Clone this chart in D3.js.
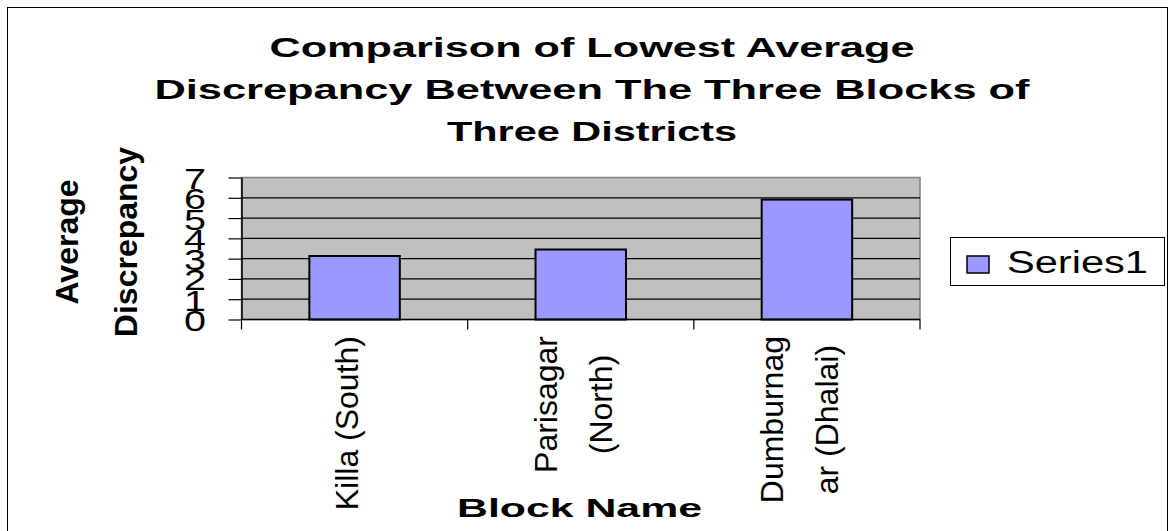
<!DOCTYPE html>
<html>
<head>
<meta charset="utf-8">
<script src="https://cdn.jsdelivr.net/npm/d3@7"></script>
<style>
  html, body { margin: 0; padding: 0; background: #fff; }
  text { font-family: "Liberation Sans", Arial, sans-serif; fill: #000; }
</style>
</head>
<body>
<div id="chart"></div>
<script>
// chart data
var categories = ["Killa (South)", "Parisagar (North)", "Dumburnagar (Dhalai)"];
var labelLines = [["Killa (South)"], ["Parisagar", "(North)"], ["Dumburnag", "ar (Dhalai)"]];
var values = [3.13, 3.45, 5.91];
var yTicks = [0, 1, 2, 3, 4, 5, 6, 7];
var seriesName = "Series1";
var titleLines = ["Comparison of Lowest Average", "Discrepancy Between The Three Blocks of", "Three Districts"];
var yTitleLines = ["Average", "Discrepancy"];
var xTitle = "Block Name";

var width = 1172, height = 531;
var plot = {left: 241.5, right: 920, top: 177.5, bottom: 319.5};

var svg = d3.select("#chart")
    .append("svg")
        .attr("width", width)
        .attr("height", height);

// outer frame
svg.append("rect")
    .attr("x", 7.5).attr("y", 7.5)
    .attr("width", 1160).attr("height", 560)
    .attr("fill", "none")
    .attr("stroke", "#000")
    .attr("stroke-width", 1);

// scales
var xScale = d3.scaleBand()
    .domain(categories)
    .range([plot.left, plot.right])
    .paddingInner(0.6)
    .paddingOuter(0.3);

var catScale = d3.scaleBand()
    .domain(categories)
    .range([plot.left, plot.right]);

var yScale = d3.scaleLinear()
    .domain([0, 7])
    .range([plot.bottom, plot.top]);

// plot background
svg.append("rect")
    .attr("x", plot.left).attr("y", plot.top)
    .attr("width", plot.right - plot.left)
    .attr("height", plot.bottom - plot.top)
    .attr("fill", "#c0c0c0")
    .attr("stroke", "#808080")
    .attr("stroke-width", 1.5);

// gridlines
svg.append("g")
    .selectAll("line")
    .data(yTicks.slice(1, -1))
    .enter()
    .append("line")
        .attr("x1", plot.left).attr("x2", plot.right)
        .attr("y1", function(d) { return yScale(d); })
        .attr("y2", function(d) { return yScale(d); })
        .attr("stroke", "#000")
        .attr("stroke-width", 1.2);

// bars
svg.append("g")
    .selectAll("rect")
    .data(values)
    .enter()
    .append("rect")
        .attr("x", function(d, i) { return xScale(categories[i]); })
        .attr("y", function(d) { return yScale(d); })
        .attr("width", xScale.bandwidth())
        .attr("height", function(d) { return yScale(0) - yScale(d); })
        .attr("fill", "#9999ff")
        .attr("stroke", "#000")
        .attr("stroke-width", 2);

// y axis
var yAxis = svg.append("g")
    .attr("transform", "translate(" + plot.left + ",0)")
    .call(d3.axisLeft(yScale).tickValues(yTicks).tickFormat(d3.format("d")).tickSize(13).tickSizeOuter(0));
yAxis.select(".domain").attr("stroke", "#000").attr("stroke-width", 1.5);
yAxis.selectAll(".tick line").attr("stroke", "#000").attr("stroke-width", 1.2);
yAxis.selectAll(".tick text")
    .attr("x", -46.5)
    .attr("dy", "11px")
    .attr("text-anchor", "middle")
    .attr("fill", "#000")
    .attr("font-size", "30px")
    .attr("font-family", "Liberation Sans, Arial, sans-serif")
    .attr("textLength", 22)
    .attr("lengthAdjust", "spacingAndGlyphs");

// x axis line and category ticks
svg.append("line")
    .attr("x1", plot.left).attr("x2", plot.right)
    .attr("y1", plot.bottom).attr("y2", plot.bottom)
    .attr("stroke", "#000")
    .attr("stroke-width", 1.5);

var bounds = categories.map(function(c) { return catScale(c); }).concat([plot.right]);
svg.append("g")
    .selectAll("line")
    .data(bounds)
    .enter()
    .append("line")
        .attr("x1", function(d) { return d; })
        .attr("x2", function(d) { return d; })
        .attr("y1", plot.bottom).attr("y2", plot.bottom + 10)
        .attr("stroke", "#000")
        .attr("stroke-width", 1.2);

// rotated category labels
var lineGap = 55;
labelLines.forEach(function(lines, i) {
    var cx = catScale(categories[i]) + catScale.bandwidth() / 2;
    var g = svg.append("g");
    var texts = lines.map(function(t, j) {
        var bx = cx + 3.5 + (j - (lines.length - 1) / 2) * lineGap;
        return g.append("text")
            .attr("font-size", "32px")
            .attr("text-anchor", "middle")
            .attr("data-bx", bx)
            .text(t);
    });
    var maxLen = d3.max(texts, function(t) { return t.node().getComputedTextLength(); });
    texts.forEach(function(t) {
        t.attr("transform", "translate(" + t.attr("data-bx") + "," + (336 + maxLen / 2) + ") rotate(-90)");
    });
});

// title
svg.append("g")
    .selectAll("text")
    .data(titleLines)
    .enter()
    .append("text")
        .attr("x", 592)
        .attr("y", function(d, i) { return 56.5 + i * 42; })
        .attr("text-anchor", "middle")
        .attr("font-size", "27px")
        .attr("font-weight", "bold")
        .attr("textLength", function(d, i) { return [645, 875, 290][i]; })
        .attr("lengthAdjust", "spacingAndGlyphs")
        .text(function(d) { return d; });

// axis titles
yTitleLines.forEach(function(t, i) {
    svg.append("text")
        .attr("transform", "translate(" + (78 + i * 59) + ",242) rotate(-90)")
        .attr("text-anchor", "middle")
        .attr("font-size", "32px")
        .attr("font-weight", "bold")
        .text(t);
});

svg.append("text")
    .attr("x", 579.5)
    .attr("y", 516.5)
    .attr("text-anchor", "middle")
    .attr("font-size", "26px")
    .attr("font-weight", "bold")
    .attr("textLength", 245)
    .attr("lengthAdjust", "spacingAndGlyphs")
    .text(xTitle);

// legend
var legend = svg.append("g");
legend.append("rect")
    .attr("x", 950.5).attr("y", 237.5)
    .attr("width", 214).attr("height", 48)
    .attr("fill", "#fff")
    .attr("stroke", "#000")
    .attr("stroke-width", 1);
legend.append("rect")
    .attr("x", 967).attr("y", 256)
    .attr("width", 22).attr("height", 17)
    .attr("fill", "#9999ff")
    .attr("stroke", "#000")
    .attr("stroke-width", 1.5);
legend.append("text")
    .attr("x", 1007)
    .attr("y", 273)
    .attr("font-size", "31px")
    .attr("textLength", 141)
    .attr("lengthAdjust", "spacingAndGlyphs")
    .text(seriesName);
</script>
</body>
</html>
